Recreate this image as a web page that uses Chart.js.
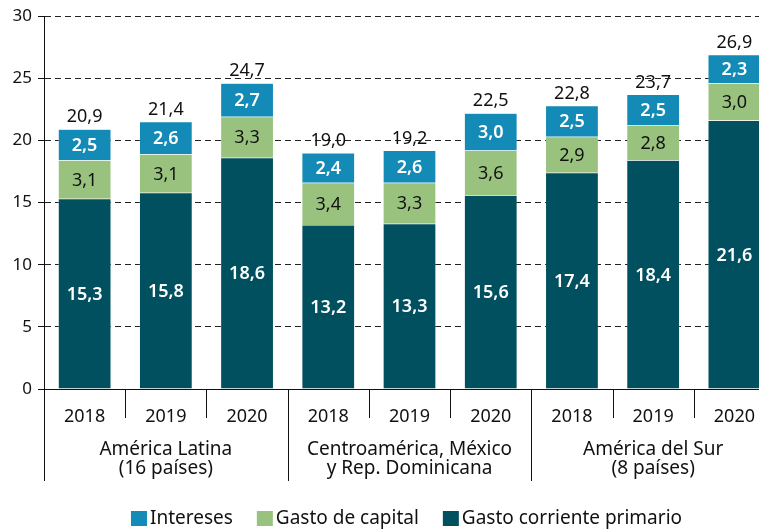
<!DOCTYPE html>
<html>
<head>
<meta charset="utf-8">
<script src="https://cdn.jsdelivr.net/npm/chart.js@4.4.1/dist/chart.umd.min.js"></script>
<style>
  html, body { margin: 0; padding: 0; background: #fff; overflow: hidden; }
  #wrap { width: 780px; height: 529px; position: relative; }
</style>
</head>
<body>
<div id="wrap"><canvas id="myChart"></canvas></div>
<script>
const years = ['2018', '2019', '2020', '2018', '2019', '2020', '2018', '2019', '2020'];
const groups = [['América Latina', '(16 países)'], ['Centroamérica, México', 'y Rep. Dominicana'], ['América del Sur', '(8 países)']];
const corriente = [15.3, 15.8, 18.6, 13.2, 13.3, 15.6, 17.4, 18.4, 21.6];
const capital = [3.1, 3.1, 3.3, 3.4, 3.3, 3.6, 2.9, 2.8, 3.0];
const intereses = [2.5, 2.6, 2.7, 2.4, 2.6, 3.0, 2.5, 2.5, 2.3];
const totales = [20.9, 21.4, 24.7, 19.0, 19.2, 22.5, 22.8, 23.7, 26.9];

const FONT = "'Noto Sans', sans-serif";
const fmt = v => v.toFixed(1).replace('.', ',');

// etiquetas dentro de las barras + totales
const labelsPlugin = {
    id: 'labels',
    afterDatasetsDraw(chart) {
        const ctx = chart.ctx;
        ctx.save();
        ctx.textAlign = 'center';
        ctx.textBaseline = 'middle';
        chart.data.datasets.forEach((ds, i) => {
            const meta = chart.getDatasetMeta(i);
            meta.data.forEach((bar, j) => {
                ctx.fillStyle = ds.labelColor;
                ctx.font = (ds.labelColor === '#fff' ? '600 ' : '') + '18px ' + FONT;
                ctx.fillText(fmt(ds.data[j]), bar.x, (bar.y + bar.base) / 2 + 1);
            });
        });
        const top = chart.getDatasetMeta(chart.data.datasets.length - 1);
        ctx.fillStyle = '#111';
        ctx.font = '18px ' + FONT;
        ctx.textBaseline = 'bottom';
        top.data.forEach((bar, j) => {
            ctx.fillText(fmt(totales[j]), bar.x, bar.y - 3);
        });
        ctx.restore();
    }
};

// separadores del eje x, grupos y leyenda
const axisPlugin = {
    id: 'axisExtras',
    afterDraw(chart) {
        const ctx = chart.ctx;
        const x = chart.scales.x;
        const area = chart.chartArea;
        const half = (x.getPixelForValue(1) - x.getPixelForValue(0)) / 2;
        ctx.save();
        ctx.strokeStyle = '#111';
        ctx.lineWidth = 1;
        for (let i = 0; i <= years.length; i++) {
            const px = Math.round(x.getPixelForValue(i) - half) + 0.5;
            const long = i % 3 === 0;
            ctx.beginPath();
            ctx.moveTo(px, area.bottom);
            ctx.lineTo(px, area.bottom + (long ? 92 : 29));
            ctx.stroke();
        }
        ctx.fillStyle = '#111';
        ctx.font = '19px ' + FONT;
        ctx.textAlign = 'center';
        ctx.textBaseline = 'middle';
        groups.forEach((g, k) => {
            const cx = (x.getPixelForValue(k * 3) + x.getPixelForValue(k * 3 + 2)) / 2;
            ctx.fillText(g[0], cx, area.bottom + 61);
            ctx.fillText(g[1], cx, area.bottom + 80);
        });

        // leyenda
        const items = chart.data.datasets.slice().reverse();
        const box = 16, gapText = 3, gapItem = 24;
        ctx.textAlign = 'left';
        let total = 0;
        items.forEach((ds, k) => {
            total += box + gapText + ctx.measureText(ds.label).width + (k < items.length - 1 ? gapItem : 0);
        });
        let lx = (area.left + area.right) / 2 - 3 - total / 2;
        const ly = 519;
        items.forEach(ds => {
            ctx.fillStyle = ds.backgroundColor;
            ctx.fillRect(lx, ly - 8, box, 15);
            lx += box + gapText;
            ctx.fillStyle = '#111';
            ctx.fillText(ds.label, lx, ly);
            lx += ctx.measureText(ds.label).width + gapItem;
        });
        ctx.restore();
    }
};

const ctx = document.getElementById('myChart').getContext('2d');
const myChart = new Chart(ctx, {
    type: 'bar',
    data: {
        labels: years,
        datasets: [
            { label: 'Gasto corriente primario', data: corriente, backgroundColor: '#00505f', labelColor: '#fff' },
            { label: 'Gasto de capital', data: capital, backgroundColor: '#99c27e', labelColor: '#111' },
            { label: 'Intereses', data: intereses, backgroundColor: '#138bb6', labelColor: '#fff' }
        ].map(d => Object.assign(d, { barPercentage: 0.65, categoryPercentage: 1, borderColor: 'rgba(255,255,255,0.6)', borderWidth: 0.5 }))
    },
    options: {
        responsive: true,
        maintainAspectRatio: false,
        animation: false,
        layout: { padding: { top: 15, right: 5 } },
        plugins: {
            legend: { display: false },
            tooltip: { enabled: false }
        },
        scales: {
            x: {
                stacked: true,
                grid: { display: false },
                border: { color: '#111', width: 1 },
                ticks: { color: '#111', font: { family: FONT, size: 18 }, padding: 9, maxRotation: 0 },
                afterFit: s => { s.height = 140; }
            },
            y: {
                stacked: true,
                min: 0,
                max: 30,
                ticks: { stepSize: 5, color: '#111', font: { family: FONT, size: 17 }, padding: 6 },
                grid: { color: '#222', lineWidth: 1, tickLength: 6, tickColor: '#111', tickBorderDash: [] },
                border: { color: '#111', width: 1, dash: [6, 4] },
                afterFit: s => { s.width = 44; }
            }
        }
    },
    plugins: [labelsPlugin, axisPlugin]
});
</script>
</body>
</html>
